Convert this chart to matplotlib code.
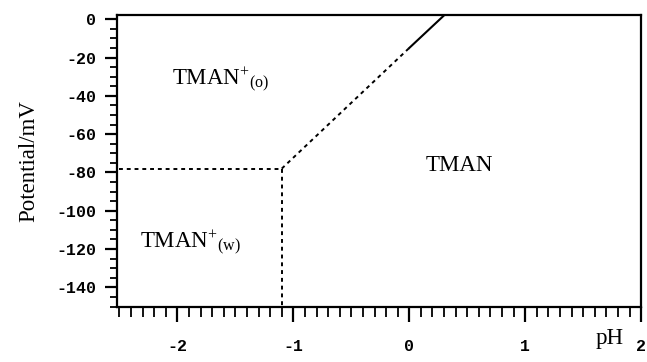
import numpy as np
import matplotlib
matplotlib.use("Agg")
import matplotlib.pyplot as plt
from matplotlib.ticker import MultipleLocator

plt.rcParams['mathtext.fontset'] = 'custom'
plt.rcParams['mathtext.rm'] = 'Liberation Serif'
plt.rcParams['mathtext.it'] = 'Liberation Serif:italic'
plt.rcParams['axes.unicode_minus'] = False

# phase boundaries (pH, potential in mV)
h_ph = [-2.5, -1.1]
h_mv = [-78, -78]
v_ph = [-1.1, -1.1]
v_mv = [-78, -150]
diag_ph = [-1.1, 0.0]
diag_mv = [-78, -15]
solid_ph = [0.0, 0.3]
solid_mv = [-15, 2]

regions = [r'TMAN$^{+}$$_{\mathrm{(o)}}$', 'TMAN', r'TMAN$^{+}$$_{\mathrm{(w)}}$']
region_ph = [-2.05, 0.14, -2.32]
region_mv = [-34.6, -79.3, -119.5]

fig = plt.figure(figsize=(6.47, 3.62), dpi=100)
ax = fig.add_axes([0.181, 0.1506, 0.81, 0.808])

ax.plot(h_ph, h_mv, color='black', lw=1.4, ls=(0, (2, 2)))
ax.plot(v_ph, v_mv, color='black', lw=1.4, ls=(0, (2, 2)))
ax.plot(diag_ph, diag_mv, color='black', lw=1.4, ls=(0, (2, 2)))
ax.plot(solid_ph, solid_mv, color='black', lw=1.5)

for txt, x, y in zip(regions, region_ph, region_mv):
    ax.text(x, y, txt, fontsize=16.5, family='Liberation Serif', va='baseline')

ax.set_xlim(-2.52, 2.0)
ax.set_ylim(-150.5, 2.2)

ax.xaxis.set_major_locator(MultipleLocator(1))
ax.xaxis.set_minor_locator(MultipleLocator(0.1))
ax.yaxis.set_major_locator(MultipleLocator(20))
ax.yaxis.set_minor_locator(MultipleLocator(5))

ax.tick_params(axis='x', which='major', direction='out', length=11, width=1.6, pad=12)
ax.tick_params(axis='x', which='minor', direction='out', length=7, width=1.3)
ax.tick_params(axis='y', which='major', direction='out', length=9, width=1.6, pad=6)
ax.tick_params(axis='y', which='minor', direction='out', length=5, width=1.3)

for lab in ax.get_xticklabels() + ax.get_yticklabels():
    lab.set_family('Liberation Mono')
    lab.set_fontweight('bold')
    lab.set_fontsize(12)

for sp in ax.spines.values():
    sp.set_linewidth(1.6)

ax.set_ylabel('Potential/mV', family='Liberation Serif', fontsize=16.5)
ax.yaxis.set_label_coords(-0.148, 0.5)
fig.text(0.92, 0.05, 'pH', family='Liberation Serif', fontsize=16.5)

fig.savefig('out.png', dpi=100)
